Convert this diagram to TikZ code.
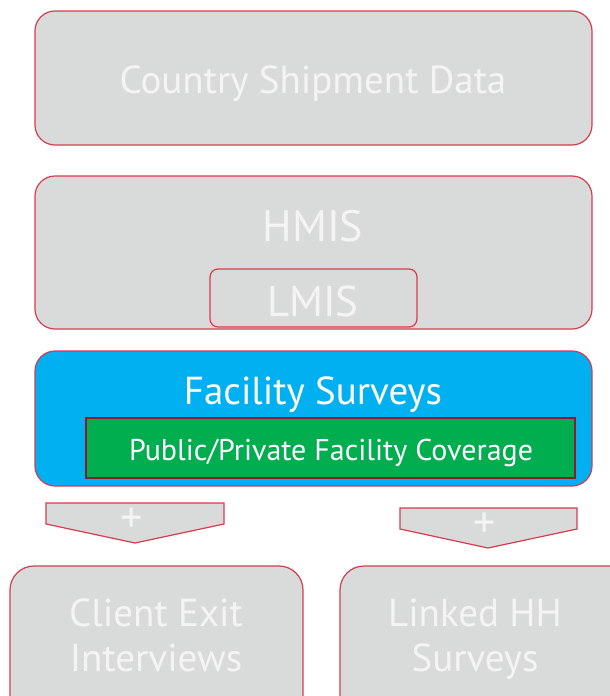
\documentclass[tikz,border=0pt]{standalone}
\usepackage{fontspec}
\setmainfont{PT Sans}
\definecolor{boxgray}{HTML}{D9DBDA}
\definecolor{boxred}{HTML}{D63C4E}
\definecolor{fsblue}{HTML}{00B0F0}
\definecolor{covgreen}{HTML}{00AD4F}
\definecolor{darkred}{HTML}{8E1B2B}
\definecolor{txt}{HTML}{F4F4F4}
\begin{document}
\begin{tikzpicture}[x=1pt,y=-1pt,
  gbox/.style={draw=boxred,line width=1.2pt,fill=boxgray,rounded corners=20pt},
  ltext/.style={text=txt,inner sep=0pt,anchor=base},
  plus/.style={text=txt,inner sep=0pt,anchor=base,font=\fontsize{44}{48}\selectfont},
  chev/.style={draw=boxred,line width=1.2pt,fill=boxgray}]
\useasboundingbox (0,0) rectangle (610,696);
\clip (0,0) rectangle (610,696);
% top box
\draw[gbox] (35,11) rectangle (592,145);
\node[ltext,font=\fontsize{39}{43}\selectfont] (csd) at (313,93) {Country Shipment Data};
% HMIS
\draw[gbox] (35,176) rectangle (592,329);
\node[ltext,font=\fontsize{44}{48}\selectfont] (hmis) at (313,241) {HMIS};
\draw[gbox,rounded corners=8pt] (210,269) rectangle (417,327);
\node[ltext,font=\fontsize{43}{47}\selectfont] (lmis) at (313,316) {LMIS};
% Facility Surveys
\draw[gbox,fill=fsblue] (35,351) rectangle (592,486);
\node[ltext,text=white,font=\fontsize{39}{43}\selectfont] (fs) at (313,404) {Facility Surveys};
\draw[draw=darkred,line width=1.6pt,fill=covgreen] (86,418) rectangle (575,478);
\node[ltext,text=white,font=\fontsize{30}{33}\selectfont] (cov) at (331,460) {Public/Private Facility Coverage};
% chevrons
\draw[chev] (46,503) -- (224,503) -- (224,524) -- (135,543) -- (46,524) -- cycle;
\node[plus] (p1) at (132,532) {+};
\draw[chev] (400,508) -- (577,508) -- (577,529) -- (488,548) -- (400,529) -- cycle;
\node[plus] (p2) at (485,537) {+};
% bottom boxes
\draw[gbox,rounded corners=24pt] (10,566) rectangle (303,730);
\node[ltext,font=\fontsize{39}{43}\selectfont] (ce1) at (156,626) {Client Exit};
\node[ltext,font=\fontsize{39}{43}\selectfont] (ce2) at (156,671) {Interviews};
\draw[gbox,rounded corners=24pt] (340,566) rectangle (640,730);
\node[ltext,font=\fontsize{39}{43}\selectfont] (hh1) at (475,626) {Linked HH};
\node[ltext,font=\fontsize{39}{43}\selectfont] (hh2) at (475,671) {Surveys};
\end{tikzpicture}
\end{document}
